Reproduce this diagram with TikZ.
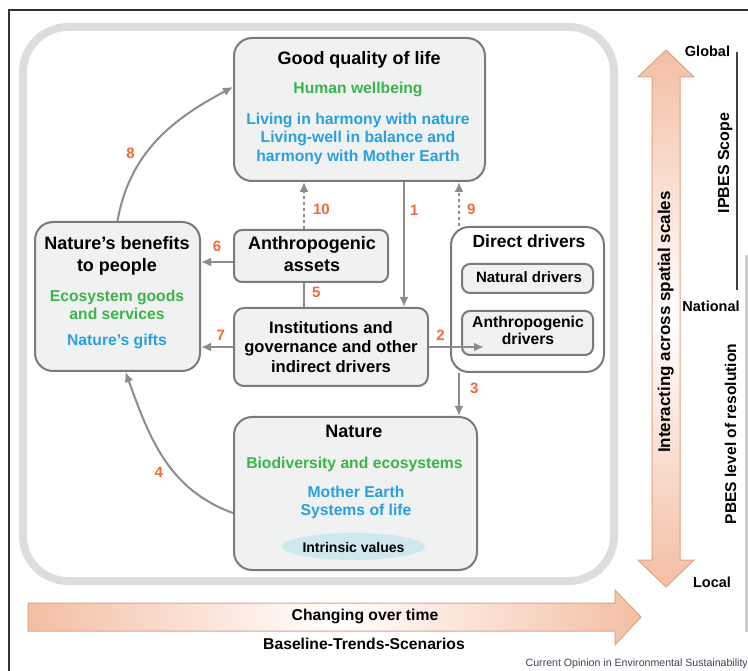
\documentclass[tikz,border=0pt]{standalone}
\usepackage{fontspec}
\setmainfont{Liberation Sans}
\usetikzlibrary{positioning,arrows.meta,calc,shapes.geometric}
\definecolor{boxfill}{HTML}{F0F2F2}
\definecolor{boxline}{HTML}{7A7A7A}
\definecolor{arrowgray}{HTML}{8C8C8C}
\definecolor{numorange}{HTML}{F26A36}
\definecolor{txtgreen}{HTML}{3BB44A}
\definecolor{txtblue}{HTML}{2A9FE0}
\definecolor{salmon}{HTML}{F3BEA3}
\definecolor{salmonline}{HTML}{E2A283}
\definecolor{ivfill}{HTML}{CFE8EE}
\definecolor{framegray}{HTML}{DDDDDD}
\definecolor{srcgray}{HTML}{3A4255}
\tikzset{
  pane/.style={draw=boxline, line width=2pt, fill=boxfill, rounded corners=#1, inner sep=0pt},
  pane/.default=18pt,
  ttl/.style={font=\fontsize{18}{21}\selectfont\bfseries, anchor=base, inner sep=0pt},
  sub/.style={font=\fontsize{15.7}{18.5}\selectfont\bfseries, anchor=base, inner sep=0pt},
  small/.style={font=\fontsize{15}{18}\selectfont\bfseries, anchor=base, inner sep=0pt},
  num/.style={font=\fontsize{15}{18}\selectfont\bfseries, text=numorange, inner sep=0pt},
  link/.style={draw=arrowgray, line width=2pt, -{Latex[length=10pt,width=9pt]}},
  dotlink/.style={link, dash pattern=on 2.5pt off 3.5pt},
  scale label/.style={font=\fontsize{14.5}{17}\selectfont\bfseries, anchor=base, inner sep=0pt}
}
\begin{document}
\begin{tikzpicture}[x=1pt,y=-1pt]
	\useasboundingbox (0,0) rectangle (748,671);
	\draw[line width=1.5pt, black!80] (9,671) -- (9,10) -- (748,10);
	\draw[line width=8pt, framegray, rounded corners=45pt] (23,27) rectangle (614,581);

	\node[pane, minimum width=251pt, minimum height=143pt] (gql) at (359.5,109.5) {};
	\node[ttl] (gqlT) at (359,65) {Good quality of life};
	\node[sub, text=txtgreen] (gqlA) at (358,94) {Human wellbeing};
	\node[sub, text=txtblue] (gqlB) at (358,125) {Living in harmony with nature};
	\node[sub, text=txtblue] (gqlC) at (358,143) {Living-well in balance and};
	\node[sub, text=txtblue] (gqlD) at (358,162) {harmony with Mother Earth};

	\node[pane, minimum width=165pt, minimum height=149pt] (nbp) at (117.5,296.5) {};
	\node[ttl] (nbpT) at (117,250) {Nature’s benefits};
	\node[ttl] (nbpU) at (117,272) {to people};
	\node[sub, text=txtgreen] (nbpA) at (117,302) {Ecosystem goods};
	\node[sub, text=txtgreen] (nbpB) at (117,320) {and services};
	\node[sub, text=txtblue] (nbpC) at (117,346) {Nature’s gifts};

	\node[pane=8pt, minimum width=154pt, minimum height=52pt] (assets) at (311,256) {};
	\node[ttl] (assetsT) at (312,250) {Anthropogenic};
	\node[ttl] (assetsU) at (312,272) {assets};

	\node[pane=10pt, minimum width=194pt, minimum height=78pt] (inst) at (331,347) {};
	\node[font=\fontsize{16.6}{19.5}\selectfont\bfseries, anchor=base, inner sep=0pt] (instA) at (331,334) {Institutions and};
	\node[font=\fontsize{16.6}{19.5}\selectfont\bfseries, anchor=base, inner sep=0pt] (instB) at (331,353) {governance and other};
	\node[font=\fontsize{16.6}{19.5}\selectfont\bfseries, anchor=base, inner sep=0pt] (instC) at (331,373) {indirect drivers};

	\node[pane, fill=white, minimum width=153pt, minimum height=145pt] (direct) at (527.5,299.5) {};
	\node[font=\fontsize{17.5}{20}\selectfont\bfseries, anchor=base, inner sep=0pt] (directT) at (529,248) {Direct drivers};
	\node[pane=8pt, minimum width=131pt, minimum height=29pt] (natdrv) at (527.5,278.5) {};
	\node[small] (natdrvT) at (529,283) {Natural drivers};
	\node[pane=8pt, minimum width=131pt, minimum height=44pt] (anthdrv) at (527.5,333) {};
	\node[sub] (anthdrvT) at (528,328) {Anthropogenic};
	\node[sub] (anthdrvU) at (528,345) {drivers};

	\node[pane, minimum width=243pt, minimum height=153pt] (nature) at (355.5,493.5) {};
	\node[ttl] (natureT) at (354,438) {Nature};
	\node[sub, text=txtgreen] (natureA) at (354.5,468) {Biodiversity and ecosystems};
	\node[sub, text=txtblue] (natureB) at (356,497) {Mother Earth};
	\node[sub, text=txtblue] (natureC) at (356,515) {Systems of life};
	\node[ellipse, fill=ivfill, minimum width=143pt, minimum height=27pt, inner sep=0pt] (iv) at (353.5,546.5) {};
	\node[font=\fontsize{14}{16}\selectfont\bfseries, anchor=base, inner sep=0pt] (ivT) at (353.5,552) {Intrinsic values};

	\draw[link] ([xshift=44.5pt]gql.south) -- node[num, pos=.23, right=5pt] (n1) {1} ([xshift=44.5pt]gql.south |- inst.north);
	\draw[dotlink] ([xshift=-68.5pt]direct.north) -- node[num, pos=.37, right=7pt] (n9) {9} ([xshift=-68.5pt]direct.north |- gql.south);
	\draw[dotlink] ([xshift=-7pt]assets.north) -- node[num, pos=.41, right=8pt] (n10) {10} ([xshift=-7pt]assets.north |- gql.south);
	\draw[draw=arrowgray, line width=2pt] ([xshift=-7pt]assets.south) -- node[num, pos=.38, right=7pt] (n5) {5} ([xshift=-7pt]assets.south |- inst.north);
	\draw[link] ([yshift=-6pt]assets.west) -- node[num, pos=.5, above=9pt] (n6) {6} ([yshift=-6pt]assets.west -| nbp.east);
	\draw[link] (inst.west) -- node[num, pos=.38, above=5pt] (n7) {7} (inst.west -| nbp.east);
	\draw[link] (inst.east) -- node[num, pos=.21, above=5pt] (n2) {2} ([xshift=23pt]anthdrv.west |- inst.east);
	\draw[link] ([xshift=-68.5pt]direct.south) -- node[num, pos=.36, right=10pt] (n3) {3} ([xshift=-68.5pt]direct.south |- nature.north);
	\draw[link] (nbp.north) to[out=80, in=208] node[num, pos=.4, left=10pt] (n8) {8} ([yshift=22.5pt]gql.west);
	\draw[link] ([yshift=-19.5pt]nature.west) to[out=160, in=-70] node[num, pos=.4, left=10pt] (n4) {4} ([xshift=8pt]nbp.south);

	\shadedraw[top color=salmon, bottom color=salmon, middle color=white, draw=salmonline, line width=1pt]
		(666,50) -- (694,77) -- (680,77) -- (680,560) -- (694,560) -- (666,587) -- (638,560) -- (652,560) -- (652,77) -- (638,77) -- cycle;
	\node[font=\fontsize{17}{20}\selectfont\bfseries, rotate=90, anchor=base, inner sep=0pt] (across) at (670,322) {Interacting across spatial scales};
	\shadedraw[left color=salmon, right color=salmon, middle color=white, draw=salmonline, line width=1pt]
		(28,603) -- (615,603) -- (615,590) -- (641,617) -- (615,645) -- (615,631) -- (28,631) -- cycle;
	\node[sub] (changing) at (365,620) {Changing over time};
	\node[sub] (baseline) at (364,649) {Baseline-Trends-Scenarios};

	\node[scale label] (global) at (707.5,57) {Global};
	\node[scale label] (national) at (711,312) {National};
	\node[scale label] (local) at (712,587) {Local};
	\draw[line width=2.5pt, black!75] (737,52) -- (737,290);
	\draw[line width=3pt, black!20] (746,255) -- (746,632);
	\node[font=\fontsize{16}{19}\selectfont\bfseries, rotate=90, anchor=base, inner sep=0pt] (scope) at (729,163) {IPBES Scope};
	\node[font=\fontsize{15.6}{18}\selectfont\bfseries, rotate=90, anchor=base, inner sep=0pt] (resol) at (736,434) {PBES level of resolution};
	\node[font=\fontsize{10.6}{12}\selectfont, text=srcgray, anchor=base east, inner sep=0pt] (source) at (748,666) {Current Opinion in Environmental Sustainability};
\end{tikzpicture}
\end{document}
